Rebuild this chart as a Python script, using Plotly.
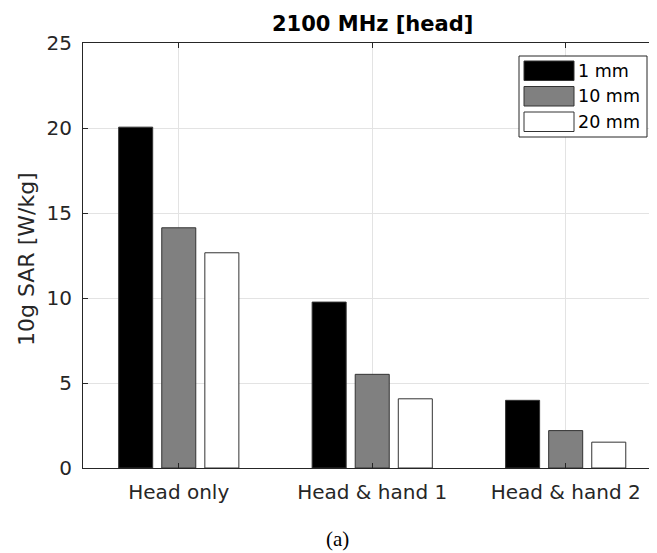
import plotly.graph_objects as go

# ---- data ----
categories = ["Head only", "Head & hand 1", "Head & hand 2"]
series_names = ["1 mm", "10 mm", "20 mm"]
sar_1mm = [20.05, 9.76, 3.98]
sar_10mm = [14.13, 5.51, 2.20]
sar_20mm = [12.66, 4.07, 1.52]
y_ticks = [0, 5, 10, 15, 20, 25]
title_text = "2100 MHz [head]"
y_title = "10g SAR [W/kg]"
caption = "(a)"

series_values = [sar_1mm, sar_10mm, sar_20mm]
colors = ["#000000", "#808080", "#ffffff"]

# page body has a default 8px margin: the figure starts at (8, 8) on screen
OFF = 8
W, H = 657 - OFF, 553 - OFF
ML, MR, MT, MB = 83 - OFF, 0, 43 - OFF, (553 - OFF) - (468 - OFF)
PW, PH = W - ML - MR, H - MT - MB


def X(sx):
    """screen x pixel -> paper coordinate"""
    return (sx - OFF - ML) / PW


def Y(sy):
    """screen y pixel -> paper coordinate"""
    return (H - MB - (sy - OFF)) / PH


AX = "#262626"
FONT = "DejaVu Sans"

fig = go.Figure()
for name, vals, col in zip(series_names, series_values, colors):
    fig.add_trace(go.Bar(
        x=categories, y=vals, name=name,
        marker=dict(color=col, line=dict(color="#333333", width=1)),
        showlegend=False,
    ))

fig.update_layout(
    width=W, height=H,
    margin=dict(l=ML, r=MR, t=MT, b=MB, pad=0),
    paper_bgcolor="white", plot_bgcolor="white",
    barmode="group", bargap=0.332, bargroupgap=0.21,
    font=dict(family=FONT, size=20, color=AX),
)

fig.update_xaxes(
    type="category", range=[-0.495, 2.472],
    showline=True, linecolor=AX, linewidth=1, mirror="ticks",
    ticks="inside", ticklen=5, tickcolor=AX, tickwidth=1,
    showgrid=True, gridcolor="#e3e3e3", gridwidth=1,
    tickfont=dict(family=FONT, size=20, color=AX),
    ticklabelstandoff=6,
)
fig.update_yaxes(
    range=[0, 25], tickvals=y_ticks, ticktext=[str(v) for v in y_ticks],
    showline=True, linecolor=AX, linewidth=1, mirror=False,
    ticks="inside", ticklen=5, tickcolor=AX, tickwidth=1,
    showgrid=True, gridcolor="#e3e3e3", gridwidth=1, zeroline=False,
    tickfont=dict(family=FONT, size=20, color=AX),
    ticklabelstandoff=6,
)

annotations = [
    dict(text="<b>%s</b>" % title_text, xref="paper", yref="paper",
         x=X(372.5), y=Y(24), xanchor="center", yanchor="middle",
         showarrow=False, font=dict(family=FONT, size=21, color="#000000")),
    dict(text=y_title, xref="paper", yref="paper", textangle=-90,
         x=X(26), y=Y(259), xanchor="center", yanchor="middle",
         showarrow=False, font=dict(family=FONT, size=22, color=AX)),
    dict(text=caption, xref="paper", yref="paper",
         x=X(337), y=Y(539), xanchor="center", yanchor="middle",
         showarrow=False, font=dict(family="Liberation Serif", size=21, color="#000000")),
]

# custom legend (box, swatches, labels)
shapes = [dict(type="rect", xref="paper", yref="paper",
               x0=X(519), x1=X(647), y0=Y(137), y1=Y(56),
               line=dict(color=AX, width=1), fillcolor="white", layer="above")]
row_top = 61.0
pitch = 25.5
for i, (name, col) in enumerate(zip(series_names, colors)):
    t = row_top + i * pitch
    shapes.append(dict(type="rect", xref="paper", yref="paper",
                       x0=X(524), x1=X(574), y0=Y(t + 19.5), y1=Y(t),
                       line=dict(color="#333333", width=1), fillcolor=col, layer="above"))
    annotations.append(dict(text=name, xref="paper", yref="paper",
                            x=X(576), y=Y(t + 10), xanchor="left", yanchor="middle",
                            showarrow=False, font=dict(family=FONT, size=17.5, color="#000000")))

fig.update_layout(shapes=shapes, annotations=annotations)

fig.write_html("out.html")
